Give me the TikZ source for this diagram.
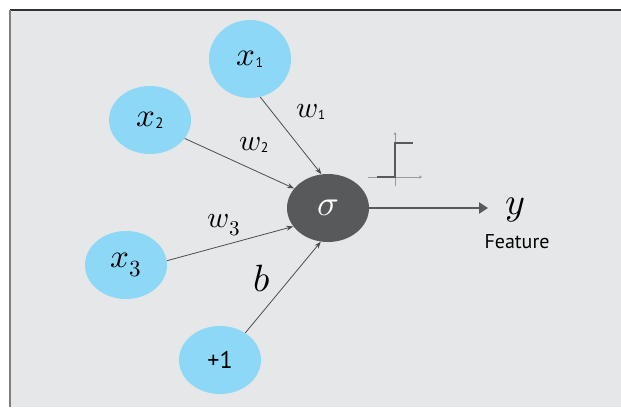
\documentclass[tikz,border=0pt]{standalone}
\usepackage{fontspec}
\usepackage{unicode-math}
\setmathfont{Latin Modern Math}
\setsansfont{PT Sans}
\usetikzlibrary{shapes.geometric,arrows.meta}
\definecolor{bg}{HTML}{E6E7E8}
\definecolor{inblue}{HTML}{8ED8F7}
\definecolor{sig}{HTML}{58595B}
\definecolor{edgec}{HTML}{4D4D4F}
\definecolor{axisc}{HTML}{9A9B9D}
\newcommand{\lowsub}[2]{\raisebox{-2.5pt}{\sffamily\fontsize{#1}{#1}\selectfont #2}}
\begin{document}
\begin{tikzpicture}[x=1pt,y=-1pt,
  innode/.style={ellipse,fill=inblue,minimum width=82pt,minimum height=68pt,inner sep=0pt},
  signode/.style={ellipse,fill=sig,minimum width=82pt,minimum height=68pt,inner sep=0pt,text=white},
  edge/.style={draw=edgec,line width=0.8pt,-{Stealth[length=7pt,width=5pt]}},
  outarrow/.style={draw=sig,line width=2.5pt,-{Triangle[length=9pt,width=11pt]}},
  lbl/.style={inner sep=0pt,font=\fontsize{30}{30}\selectfont}
]
\useasboundingbox (0,0) rectangle (621,407);
\fill[bg] (10,10) rectangle (621,407);
\draw[black!80,line width=1.2pt] (10,10) -- (621,10);
\draw[black!50,line width=1.2pt] (10,10) -- (10,407);

\node[innode,minimum height=78pt] (x1) at (250,59) {\fontsize{33}{33}\selectfont$x$\lowsub{14}{1}};
\node[innode] (x2) at (150,120) {\fontsize{33}{33}\selectfont$x$\lowsub{15}{2}};
\node[innode] (x3) at (126,265) {\fontsize{33}{33}\selectfont$x_{3}$};
\node[innode] (b1) at (220,360) {\sffamily\fontsize{24}{24}\selectfont +1};
\node[signode] (s) at (328,208) {\fontsize{36}{36}\selectfont$\sigma$};

\draw[edge] (x1.-75) -- (s.101);
\draw[edge] (x2.-28) -- (s.150);
\draw[edge] (x3.6) -- (s.-152);
\draw[edge] (b1.47) -- (s.-102);

\node[lbl] (w1) at (311,112) {$w$\lowsub{13}{1}};
\node[lbl] (w2) at (254,145) {$w$\lowsub{14}{2}};
\node[lbl] (w3) at (224,225) {$w_{3}$};
\node[inner sep=0pt,font=\fontsize{38}{38}\selectfont] (bl) at (262,279) {$b$};

\coordinate (yend) at (488,208);
\draw[outarrow] (s.east) -- (yend);
\node[inner sep=0pt,font=\fontsize{38}{38}\selectfont] (y) at (515,210) {$y$};
\node[inner sep=0pt,font=\sffamily\fontsize{20}{20}\selectfont] (feat) at (517,242) {Feature};

% step function icon
\draw[axisc,line width=0.8pt,-{Stealth[length=3pt,width=3pt]}] (368,177) -- (422,177);
\draw[axisc,line width=0.8pt,-{Stealth[length=3pt,width=3pt]}] (395,186) -- (395,132);
\draw[sig,line width=2.8pt] (377,177) -- (395,177) -- (395,143) -- (413,143);
\end{tikzpicture}
\end{document}
